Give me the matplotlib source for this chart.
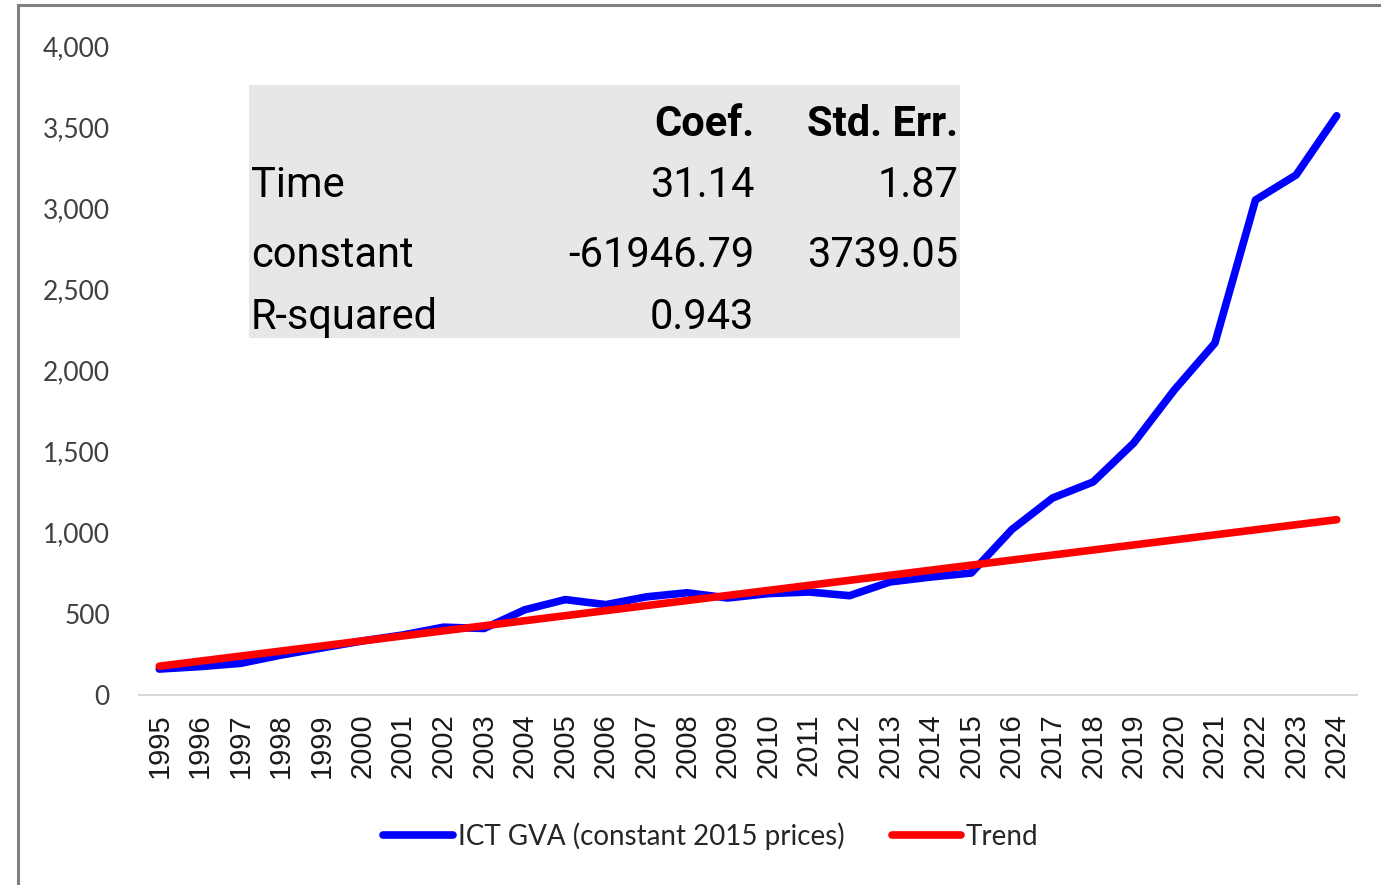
import matplotlib
matplotlib.use("Agg")
import matplotlib.pyplot as plt
from matplotlib.lines import Line2D
from matplotlib.patches import Rectangle

# ---- data ----
years = [str(y) for y in range(1995, 2025)]
ict_gva = [160, 175, 195, 246, 290, 333, 370, 418, 410, 525,
           588, 557, 605, 630, 598, 625, 635, 612, 697, 727,
           752, 1020, 1214, 1313, 1553, 1880, 2169, 3051, 3205, 3570]
trend = [177.5, 208.6, 239.8, 270.9, 302.1, 333.2, 364.3, 395.5, 426.6, 457.8,
         488.9, 520.1, 551.2, 582.3, 613.5, 644.6, 675.8, 706.9, 738.0, 769.2,
         800.3, 831.5, 862.6, 893.8, 924.9, 956.0, 987.2, 1018.3, 1049.5, 1080.6]
series_names = ["ICT GVA (constant 2015 prices)", "Trend"]
ytick_values = [0, 500, 1000, 1500, 2000, 2500, 3000, 3500, 4000]
ytick_labels = ["0", "500", "1,000", "1,500", "2,000", "2,500", "3,000", "3,500", "4,000"]

table_header = ["", "Coef.", "Std. Err."]
table_rows = ["Time", "constant", "R-squared"]
table_coef = ["31.14", "-61946.79", "0.943"]
table_se = ["1.87", "3739.05", ""]

# ---- figure ----
W, H = 1381, 885
fig = plt.figure(figsize=(W / 100, H / 100), dpi=100)
fig.patch.set_facecolor("white")

def fx(px):
    return px / W

def fy(py):
    return 1 - py / H

ax_left, ax_right, ax_top, ax_bottom = 139, 1357, 46, 695
ax = fig.add_axes([fx(ax_left), fy(ax_bottom), (ax_right - ax_left) / W, (ax_bottom - ax_top) / H])

x = list(range(len(years)))
ax.plot(x, ict_gva, color="#0000ff", lw=5.5, solid_capstyle="round",
        solid_joinstyle="round", label=series_names[0], zorder=3)
ax.plot(x, trend, color="#ff0000", lw=5.5, solid_capstyle="round",
        solid_joinstyle="round", label=series_names[1], zorder=4)

ax.set_xlim(-0.5, len(years) - 0.5)
ax.set_ylim(0, 4000)
ax.set_xticks(x)
ax.set_xticklabels(years, rotation=90, fontsize=21, family="Liberation Sans", color="#1a1a1a")
ax.set_yticks(ytick_values)
ax.set_yticklabels(ytick_labels, fontsize=19, family="Lato", color="#404040")
ax.tick_params(axis="y", length=0, pad=21)
ax.tick_params(axis="x", length=0, pad=13)
for s in ["top", "right", "left"]:
    ax.spines[s].set_visible(False)
ax.spines["bottom"].set_color("#d9d9d9")
ax.spines["bottom"].set_linewidth(1.5)

# ---- regression table ----
fig.patches.append(Rectangle((fx(249), fy(338)), (960 - 249) / W, (338 - 85) / H,
                             transform=fig.transFigure, facecolor="#e7e7e7",
                             edgecolor="none", zorder=5))
tfont = dict(family="Roboto", fontsize=30, color="black", zorder=6)
fig.text(fx(754), fy(136), table_header[1], ha="right", va="baseline", fontweight="bold", **tfont)
fig.text(fx(958), fy(136), table_header[2], ha="right", va="baseline", fontweight="bold", **tfont)
row_baselines = [197, 267, 329]
for name, c, se, yb in zip(table_rows, table_coef, table_se, row_baselines):
    fig.text(fx(251), fy(yb), name, ha="left", va="baseline", **tfont)
    fig.text(fx(754), fy(yb), c, ha="right", va="baseline", **tfont)
    if se:
        fig.text(fx(958), fy(yb), se, ha="right", va="baseline", **tfont)

# ---- legend ----
handles, labels = ax.get_legend_handles_labels()
leg = fig.legend(handles, labels, loc="center", bbox_to_anchor=(fx(711), fy(836)),
                 ncol=2, frameon=False, handlelength=2.5, handletextpad=0.18,
                 columnspacing=1.7, prop=dict(family="Lato", size=20))
for t in leg.get_texts():
    t.set_color("#262626")

# ---- outer frame (top and left visible) ----
fig.add_artist(Line2D([fx(18), 1.0], [fy(5), fy(5)], transform=fig.transFigure,
                      color="#7f7f7f", lw=2.2))
fig.add_artist(Line2D([fx(18), fx(18)], [fy(5), 0.0], transform=fig.transFigure,
                      color="#7f7f7f", lw=2.2))

fig.savefig("out.png", dpi=100)
